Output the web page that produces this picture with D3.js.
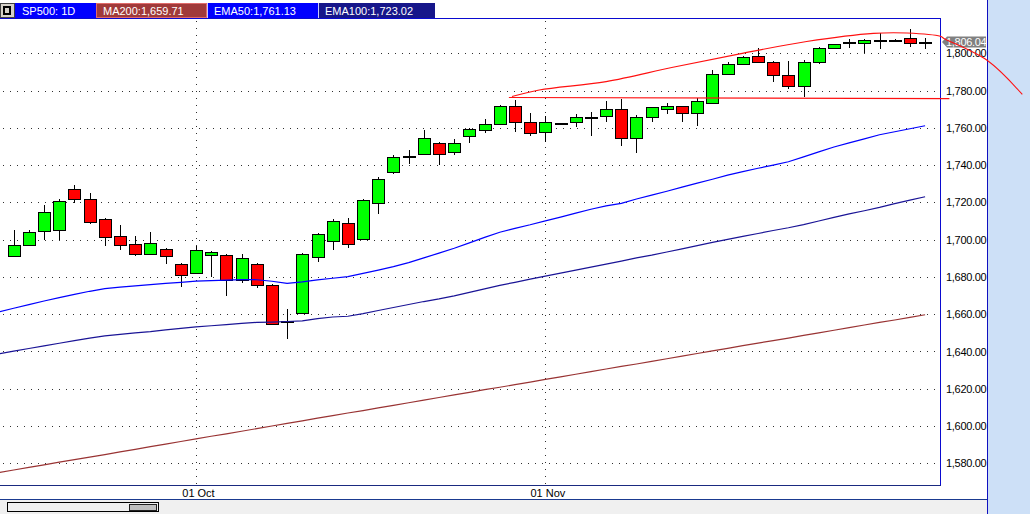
<!DOCTYPE html>
<html><head><meta charset="utf-8">
<script src="https://cdn.jsdelivr.net/npm/d3@7"></script>
<style>
body{margin:0;background:#fff;overflow:hidden}
svg{display:block}
text{font-family:"Liberation Sans",Arial,sans-serif;font-size:11px}
</style></head>
<body><svg id="c" width="1030" height="514"></svg>
<script>
// ---------- data ----------
const dates = ["2013-09-13","2013-09-16","2013-09-17","2013-09-18","2013-09-19","2013-09-20","2013-09-23","2013-09-24","2013-09-25","2013-09-26","2013-09-27","2013-09-30",
"2013-10-01","2013-10-02","2013-10-03","2013-10-04","2013-10-07","2013-10-08","2013-10-09","2013-10-10","2013-10-11","2013-10-14","2013-10-15","2013-10-16","2013-10-17","2013-10-18","2013-10-21","2013-10-22","2013-10-23","2013-10-24","2013-10-25","2013-10-28","2013-10-29","2013-10-30","2013-10-31",
"2013-11-01","2013-11-04","2013-11-05","2013-11-06","2013-11-07","2013-11-08","2013-11-11","2013-11-12","2013-11-13","2013-11-14","2013-11-15","2013-11-18","2013-11-19","2013-11-20","2013-11-21","2013-11-22","2013-11-25","2013-11-26","2013-11-27","2013-11-29",
"2013-12-02","2013-12-03","2013-12-04","2013-12-05","2013-12-06","2013-12-09"];
const open  = [1691.4,1697.3,1704.8,1705.1,1727.3,1722.0,1711.3,1702.1,1697.9,1692.5,1695.2,1687.1,1682.3,1692.0,1692.0,1678.6,1687.1,1675.9,1656.2,1660.9,1690.9,1699.5,1709.1,1700.3,1719.8,1736.4,1744.4,1745.7,1752.0,1747.2,1755.7,1758.7,1762.2,1771.8,1763.2,1757.8,1762.6,1763.2,1765.6,1766.2,1769.9,1754.4,1765.6,1769.9,1771.5,1767.8,1773.6,1789.1,1794.5,1798.8,1795.6,1788.1,1782.7,1795.6,1803.1,1805.6,1805.4,1806.9,1807.0,1808.1,1805.9];
const high  = [1705.0,1705.4,1718.4,1721.6,1729.6,1725.3,1711.5,1707.7,1701.8,1703.9,1695.4,1687.3,1696.8,1693.8,1692.2,1692.1,1687.3,1676.2,1662.6,1692.9,1703.4,1711.0,1711.4,1721.6,1733.4,1745.2,1747.9,1759.1,1752.2,1753.8,1759.7,1765.0,1772.0,1775.2,1768.1,1766.3,1762.8,1767.5,1768.7,1774.4,1775.4,1766.7,1771.2,1773.6,1771.7,1775.9,1791.3,1795.3,1798.8,1802.7,1795.8,1796.0,1796.2,1803.3,1805.1,1807.9,1807.9,1811.1,1807.7,1812.9,1808.4];
const low   = [1691.2,1697.1,1699.8,1699.8,1719.8,1708.4,1696.4,1694.6,1691.1,1692.3,1686.9,1674.6,1681.6,1680.0,1669.8,1676.7,1674.1,1654.8,1646.6,1660.7,1688.0,1694.3,1695.3,1700.1,1713.7,1735.4,1740.5,1745.5,1740.0,1745.6,1752.0,1757.2,1762.0,1757.7,1755.7,1752.3,1762.4,1760.7,1755.5,1763.2,1750.1,1746.6,1762.9,1767.5,1762.9,1760.9,1773.4,1788.9,1794.3,1795.2,1784.6,1780.9,1776.8,1794.0,1802.9,1803.0,1799.9,1802.5,1806.5,1803.6,1802.5];
const close = [1697.3,1704.3,1715.0,1720.9,1722.0,1709.4,1701.6,1697.3,1692.5,1698.4,1691.4,1681.2,1694.6,1693.6,1678.6,1690.4,1675.9,1655.0,1656.6,1692.5,1703.2,1710.2,1697.6,1721.4,1732.7,1744.5,1744.8,1754.7,1746.1,1752.0,1759.5,1762.2,1771.8,1763.2,1757.3,1763.2,1762.7,1765.9,1765.8,1769.9,1754.4,1765.6,1771.0,1771.5,1767.8,1774.2,1789.1,1794.5,1798.2,1795.4,1788.1,1782.7,1795.6,1803.1,1804.9,1805.8,1807.0,1807.1,1807.1,1805.4,1806.04];
// indicator values: first entry is the bar before the first visible one (index -1)
const ma200  = [1575.0,1576.4,1577.8,1579.2,1580.6,1582.0,1583.3,1584.7,1586.1,1587.5,1588.9,1590.3,1591.7,1593.1,1594.5,1595.8,1597.2,1598.6,1600.0,1601.4,1602.8,1604.2,1605.6,1607.0,1608.3,1609.7,1611.1,1612.5,1613.9,1615.3,1616.7,1618.1,1619.5,1620.8,1622.2,1623.6,1625.0,1626.4,1627.8,1629.2,1630.6,1632.0,1633.3,1634.7,1636.1,1637.5,1638.9,1640.3,1641.7,1643.1,1644.5,1645.8,1647.2,1648.6,1650.0,1651.4,1652.8,1654.2,1655.6,1656.9,1658.3,1659.71];
const ema50  = [1661.2,1663.2,1665.1,1667.1,1668.9,1670.6,1672.3,1673.7,1674.5,1675.2,1675.9,1676.5,1677.1,1677.7,1678.0,1678.3,1678.6,1678.5,1677.7,1676.6,1677.3,1678.4,1679.3,1680.2,1681.9,1683.7,1685.5,1687.7,1690.2,1692.8,1695.4,1698.3,1701.2,1704.0,1706.1,1708.0,1710.1,1712.1,1714.2,1716.3,1718.1,1719.5,1721.8,1723.9,1726.0,1728.2,1730.3,1732.4,1734.6,1736.5,1738.3,1740.0,1741.8,1744.4,1747.1,1749.7,1751.9,1754.1,1756.3,1757.9,1759.5,1761.13];
const ema100 = [1638.7,1640.2,1641.6,1643.0,1644.4,1645.8,1647.2,1648.4,1649.2,1650.0,1650.7,1651.6,1652.4,1653.2,1653.8,1654.4,1655.1,1655.6,1655.8,1656.1,1656.4,1657.6,1658.5,1658.9,1660.3,1662.0,1663.6,1665.2,1666.8,1668.2,1669.8,1671.7,1673.6,1675.5,1677.1,1678.8,1680.4,1682.0,1683.7,1685.3,1686.9,1688.5,1690.2,1691.7,1693.4,1695.1,1696.8,1698.5,1700.2,1701.8,1703.3,1704.9,1706.4,1708.1,1710.0,1712.0,1713.8,1715.5,1717.3,1719.3,1721.2,1723.02];
// drawn trend objects (bar index, price)
const curveIdx = [32.8,34.6,39.0,43.4,47.8,52.2,56.6,58.8,61.0,61.3,64.1,66.4];
const curveVal = [1776.8,1780.3,1784.8,1792.5,1799.7,1806.3,1810.7,1810.9,1809.1,1807.7,1796.1,1777.9];
const levelIdx = [32.6,61.6];
const levelVal = [1776.3,1775.7];
const yTicks = [1580,1600,1620,1640,1660,1680,1700,1720,1740,1760,1780,1800];
const xTickDates = ["2013-10-01","2013-11-01"];
const xTickLabels = ["01 Oct","01 Nov"];
const lastPrice = 1806.04;
const legendLabels = ["SP500: 1D","MA200:1,659.71","EMA50:1,761.13","EMA100:1,723.02"];

// ---------- layout ----------
const svg = d3.select("#c");
const P = {left:0, top:18, right:940, bottom:485};
const xs = d3.scalePoint().domain(dates).range([13.7, 925.1]);
const xi = d3.scaleLinear().domain([0, dates.length-1]).range([13.7, 925.1]);
const y  = d3.scaleLinear().domain([1580,1800]).range([463.3,53.3]);
const px = v => Math.round(v) + 0.5;

// backgrounds
svg.append("rect").attr("x",0).attr("y",0).attr("width",1030).attr("height",514).attr("fill","#ffffff");
svg.append("rect").attr("x",0).attr("y",500).attr("width",988).attr("height",14).attr("fill","#f0f0f0");
svg.append("rect").attr("x",988).attr("y",0).attr("width",42).attr("height",514).attr("fill","#cde0f7");
svg.append("line").attr("x1",987.5).attr("x2",987.5).attr("y1",0).attr("y2",514).attr("stroke","#1010c0");

// grid
const grid = svg.append("g").attr("stroke","#303030").attr("stroke-dasharray","1,6").attr("shape-rendering","crispEdges");
yTicks.forEach(t => grid.append("line").attr("x1",3).attr("x2",936).attr("y1",px(y(t))).attr("y2",px(y(t))));
xTickDates.forEach(d => grid.append("line").attr("x1",px(xs(d))).attr("x2",px(xs(d))).attr("y1",21).attr("y2",P.bottom));

// candles
const cg = svg.append("g");
dates.forEach((d,i) => {
  const cx = Math.round(xs(d)) + 0.5;
  cg.append("line").attr("x1",cx).attr("x2",cx).attr("y1",Math.round(y(high[i]))).attr("y2",Math.round(y(low[i])))
    .attr("stroke","#000").attr("stroke-width",1).attr("shape-rendering","crispEdges");
  const top = Math.round(y(Math.max(open[i],close[i])));
  const bot = Math.round(y(Math.min(open[i],close[i])));
  cg.append("rect").attr("x",cx-6.5).attr("y",top+0.5).attr("width",12).attr("height",Math.max(1,bot-top))
    .attr("fill", close[i] >= open[i] ? "#00ff00" : "#ff0000")
    .attr("stroke","#000").attr("stroke-width",1).attr("shape-rendering","crispEdges");
});

// indicator lines
const lineGen = d3.line().x((v,k) => xi(k-1)).y(v => y(v));
svg.append("path").attr("d",lineGen(ma200)).attr("fill","none").attr("stroke","#993333").attr("stroke-width",1.2);
svg.append("path").attr("d",lineGen(ema100)).attr("fill","none").attr("stroke","#1a1496").attr("stroke-width",1.2);
svg.append("path").attr("d",lineGen(ema50)).attr("fill","none").attr("stroke","#0000ff").attr("stroke-width",1.2);

// frame
const fr = svg.append("g").attr("stroke","#0a0ad0").attr("shape-rendering","crispEdges");
fr.append("line").attr("x1",0).attr("x2",940.5).attr("y1",18.5).attr("y2",18.5);
fr.append("line").attr("x1",940.5).attr("x2",940.5).attr("y1",18.5).attr("y2",485.5);
fr.append("line").attr("x1",0).attr("x2",940.5).attr("y1",485.5).attr("y2",485.5).attr("stroke","#1a2a80");
fr.append("line").attr("x1",0).attr("x2",987).attr("y1",499.5).attr("y2",499.5).attr("stroke","#1a3a90");

// right axis
const ya = svg.append("g").attr("transform","translate(940,0)")
  .call(d3.axisRight(y).tickValues(yTicks).tickFormat(d3.format(",.2f")).tickSize(0).tickPadding(6));
ya.select(".domain").remove();
ya.selectAll("text").attr("font-family","Liberation Sans, Arial, sans-serif").attr("font-size",11).attr("fill","#000").attr("letter-spacing","-0.3");

// bottom axis
const xa = svg.append("g").attr("transform","translate(2,485)")
  .call(d3.axisBottom(xs).tickValues(xTickDates).tickFormat((d,k) => xTickLabels[k]).tickSize(0).tickPadding(4));
xa.select(".domain").remove();
xa.selectAll("text").attr("font-family","Liberation Sans, Arial, sans-serif").attr("font-size",11).attr("fill","#000");

// last price tag
const ly = y(lastPrice);
svg.append("path").attr("d",`M942,${ly} L947,${ly-5.5} L986,${ly-5.5} L986,${ly+5.5} L947,${ly+5.5} Z`).attr("fill","#808080");
svg.append("text").attr("x",946).attr("y",ly+4).attr("fill","#fff").attr("letter-spacing","-0.3").text(d3.format(",.2f")(lastPrice));

// drawn objects
svg.append("path").attr("d", d3.line().x(d=>xi(d[0])).y(d=>y(d[1])).curve(d3.curveCatmullRom)(curveIdx.map((v,k)=>[v,curveVal[k]])))
  .attr("fill","none").attr("stroke","#ff1010").attr("stroke-width",1.1);
svg.append("path").attr("d", d3.line().x(d=>xi(d[0])).y(d=>y(d[1]))(levelIdx.map((v,k)=>[v,levelVal[k]])))
  .attr("fill","none").attr("stroke","#ff1010").attr("stroke-width",1.1);

// legend bar
const lg = svg.append("g");
lg.append("rect").attr("x",0.5).attr("y",3.5).attr("width",14).attr("height",14).attr("fill","#d4d0c8").attr("stroke","#404040");
lg.append("rect").attr("x",3).attr("y",6).attr("width",8).attr("height",9).attr("fill","#000");
lg.append("rect").attr("x",5).attr("y",8).attr("width",4).attr("height",5).attr("fill","#d4d0c8");
const segX = [15, 96, 207, 318, 435];
const segFill = ["#0000ff","#a03a3a","#0000ff","#16168a"];
legendLabels.forEach((t,k) => {
  lg.append("rect").attr("x",segX[k]).attr("y",3).attr("width",segX[k+1]-segX[k]).attr("height",15).attr("fill",segFill[k]);
  if (k===1) lg.append("rect").attr("x",segX[k]+0.5).attr("y",3.5).attr("width",segX[k+1]-segX[k]-1).attr("height",14).attr("fill","none").attr("stroke","#e06a6a");
  if (k>=2) lg.append("line").attr("x1",segX[k]+0.5).attr("x2",segX[k]+0.5).attr("y1",3).attr("y2",18).attr("stroke","#c8c8ff");
  lg.append("text").attr("x",segX[k]+7).attr("y",15).attr("fill","#fff").attr("font-size",11.5).text(t);
});

// scrollbar
svg.append("rect").attr("x",7.5).attr("y",502.5).attr("width",151).attr("height",9).attr("fill","#f0f0f0").attr("stroke","#000");
svg.append("rect").attr("x",129.5).attr("y",504.5).attr("width",27).attr("height",6).attr("fill","#c0c0c0").attr("stroke","#202020");
</script></body></html>
